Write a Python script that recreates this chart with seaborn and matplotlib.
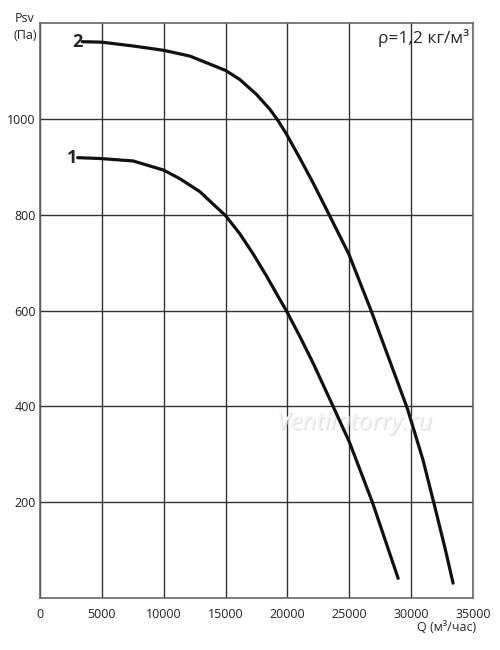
import matplotlib
matplotlib.use('Agg')
import matplotlib.pyplot as plt
import matplotlib.patheffects as pe
import seaborn as sns
import pandas as pd

# Fan curves: Q (m3/h) vs Psv (Pa)
q1 = [3045, 5000, 7540, 10000, 11310, 12925, 14000, 15000, 16155, 17230, 18310, 19120,
      19925, 21000, 22080, 23690, 25000, 26880, 28950]
p1 = [919, 917, 912, 893, 875, 848, 822, 798, 760, 718, 672, 635,
      599, 546, 490, 400, 326, 199, 41]
q2 = [3420, 5000, 7540, 10000, 12115, 15000, 16155, 17500, 18580, 19250, 19925, 21000,
      22080, 23370, 24960, 26790, 28270, 29700, 30960, 31830, 32710, 33390]
p2 = [1161, 1160, 1152, 1143, 1131, 1101, 1082, 1051, 1020, 996, 968, 918,
      866, 800, 718, 598, 495, 395, 288, 199, 107, 31]
x_ticks = [0, 5000, 10000, 15000, 20000, 25000, 30000, 35000]
y_ticks = [200, 400, 600, 800, 1000]

sns.set_style('white')
plt.rcParams['font.family'] = ['Open Sans', 'DejaVu Sans']

df = pd.concat([
    pd.DataFrame({'Q': q1, 'P': p1, 'curve': '1'}),
    pd.DataFrame({'Q': q2, 'P': p2, 'curve': '2'}),
])

fig = plt.figure(figsize=(5, 6.5), dpi=100)
ax = fig.add_axes([0.08, 0.08, 0.866, 0.8846])

ax.set_xlim(0, 35000)
ax.set_ylim(0, 1200)
ax.set_xticks(x_ticks)
ax.set_yticks(y_ticks)
ax.grid(True, color='#333333', linewidth=1.0)
ax.set_axisbelow(True)
for s in ax.spines.values():
    s.set_color('#666666')
    s.set_linewidth(1.2)
ax.tick_params(length=0, labelsize=9, colors='#222222')
ax.tick_params(axis='x', pad=7)
ax.tick_params(axis='y', pad=3)

sns.lineplot(data=df, x='Q', y='P', units='curve', estimator=None, sort=False,
             color='#111111', linewidth=2.3, ax=ax, legend=False)
ax.set_xlabel('')
ax.set_ylabel('')

# curve labels
ax.text(q1[0], p1[0], '1', ha='right', va='center', fontsize=13, fontweight='bold')
ax.text(q2[0], p2[0], '2', ha='right', va='center', fontsize=13, fontweight='bold')

# watermark
ax.text(25400, 365, 'Ventilatorry.ru', ha='center', va='center', fontsize=17.5,
        style='italic', color='#f6f6f6', zorder=1,
        path_effects=[pe.withSimplePatchShadow(offset=(1, -1), shadow_rgbFace='#d0d0d0', alpha=0.6)])

ax.text(0.99, 0.974, 'ρ=1,2 кг/м³', transform=ax.transAxes, ha='right', va='center', fontsize=12.5)

fig.text(0.05, 0.972, 'Psv', ha='center', va='center', fontsize=9)
fig.text(0.05, 0.945, '(Па)', ha='center', va='center', fontsize=9)
fig.text(0.894, 0.034, 'Q (м³/час)', ha='center', va='center', fontsize=9)

fig.savefig('out.png', dpi=100)
